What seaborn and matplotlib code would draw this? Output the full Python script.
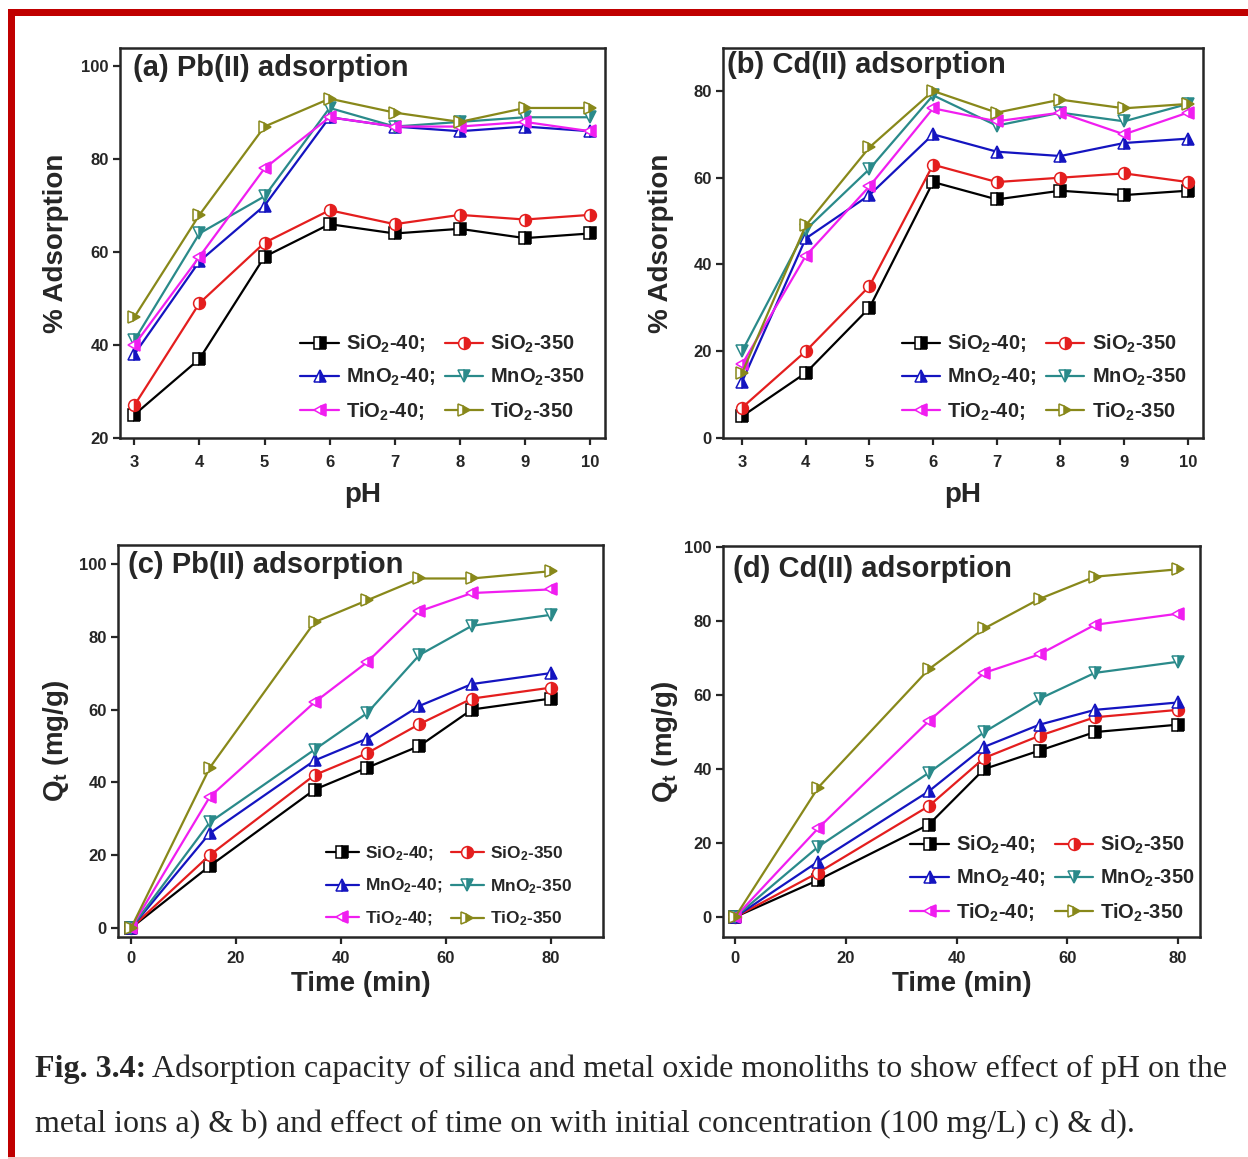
import numpy as np
import pandas as pd
import matplotlib
matplotlib.use("Agg")
import matplotlib.pyplot as plt
import seaborn as sns
from matplotlib.patches import Rectangle

# ---------------- data ----------------
ph = [3, 4, 5, 6, 7, 8, 9, 10]
time_min = [0, 15, 35, 45, 55, 65, 80]

legend_labels = ["SiO$_2$-40;", "SiO$_2$-350", "MnO$_2$-40;", "MnO$_2$-350",
                 "TiO$_2$-40;", "TiO$_2$-350"]

# (a) Pb(II) vs pH, % adsorption
pb_ph_sio2_40 = [25, 37, 59, 66, 64, 65, 63, 64]
pb_ph_sio2_350 = [27, 49, 62, 69, 66, 68, 67, 68]
pb_ph_mno2_40 = [38, 58, 70, 89, 87, 86, 87, 86]
pb_ph_mno2_350 = [41, 64, 72, 91, 87, 88, 89, 89]
pb_ph_tio2_40 = [40, 59, 78, 89, 87, 87, 88, 86]
pb_ph_tio2_350 = [46, 68, 87, 93, 90, 88, 91, 91]

# (b) Cd(II) vs pH, % adsorption
cd_ph_sio2_40 = [5, 15, 30, 59, 55, 57, 56, 57]
cd_ph_sio2_350 = [7, 20, 35, 63, 59, 60, 61, 59]
cd_ph_mno2_40 = [13, 46, 56, 70, 66, 65, 68, 69]
cd_ph_mno2_350 = [20, 48, 62, 79, 72, 75, 73, 77]
cd_ph_tio2_40 = [17, 42, 58, 76, 73, 75, 70, 75]
cd_ph_tio2_350 = [15, 49, 67, 80, 75, 78, 76, 77]

# (c) Pb(II) vs time, Qt (mg/g)
pb_t_sio2_40 = [0, 17, 38, 44, 50, 60, 63]
pb_t_sio2_350 = [0, 20, 42, 48, 56, 63, 66]
pb_t_mno2_40 = [0, 26, 46, 52, 61, 67, 70]
pb_t_mno2_350 = [0, 29, 49, 59, 75, 83, 86]
pb_t_tio2_40 = [0, 36, 62, 73, 87, 92, 93]
pb_t_tio2_350 = [0, 44, 84, 90, 96, 96, 98]

# (d) Cd(II) vs time, Qt (mg/g)
cd_t_sio2_40 = [0, 10, 25, 40, 45, 50, 52]
cd_t_sio2_350 = [0, 12, 30, 43, 49, 54, 56]
cd_t_mno2_40 = [0, 15, 34, 46, 52, 56, 58]
cd_t_mno2_350 = [0, 19, 39, 50, 59, 66, 69]
cd_t_tio2_40 = [0, 24, 53, 66, 71, 79, 82]
cd_t_tio2_350 = [0, 35, 67, 78, 86, 92, 94]

# ---------------- style ----------------
sns.set_style("ticks")
plt.rcParams["font.family"] = ["Liberation Sans", "DejaVu Sans"]
plt.rcParams["font.weight"] = "bold"
plt.rcParams["axes.labelweight"] = "bold"
plt.rcParams["mathtext.fontset"] = "custom"
plt.rcParams["mathtext.rm"] = "Liberation Sans:bold"
plt.rcParams["mathtext.it"] = "Liberation Sans:bold"
plt.rcParams["mathtext.bf"] = "Liberation Sans:bold"
plt.rcParams["mathtext.default"] = "rm"

colors = ["#000000", "#e41e1e", "#1414c0", "#2a8a8a", "#f01ef0", "#88881a"]
markers = ["s", "o", "^", "v", "<", ">"]

W, H = 1248, 1159
fig = plt.figure(figsize=(W / 100, H / 100), dpi=100)


def px_axes(l, r, t, b):
    return [l / W, 1 - b / H, (r - l) / W, (b - t) / H]


panels = [
    dict(rect=px_axes(120, 605, 48, 438), x=ph,
         ys=[pb_ph_sio2_40, pb_ph_sio2_350, pb_ph_mno2_40, pb_ph_mno2_350, pb_ph_tio2_40, pb_ph_tio2_350],
         xlim=(2.78, 10.23), ylim=(20, 103.9), xticks=ph, yticks=[20, 40, 60, 80, 100],
         xlabel="pH", ylabel="% Adsorption", title="(a) Pb(II) adsorption",
         tpos=(0.027, 0.928), leg=(0.372, 0.27), legfs=14.5, ls=0.6, ylp=9, xlp=9, xpad=7),
    dict(rect=px_axes(723, 1203, 48, 438), x=ph,
         ys=[cd_ph_sio2_40, cd_ph_sio2_350, cd_ph_mno2_40, cd_ph_mno2_350, cd_ph_tio2_40, cd_ph_tio2_350],
         xlim=(2.7, 10.24), ylim=(0, 89.9), xticks=ph, yticks=[0, 20, 40, 60, 80],
         xlabel="pH", ylabel="% Adsorption", title="(b) Cd(II) adsorption",
         tpos=(0.008, 0.936), leg=(0.372, 0.27), legfs=14.5, ls=0.6, ylp=14, xlp=9, xpad=7),
    dict(rect=px_axes(118, 603, 545, 937), x=time_min,
         ys=[pb_t_sio2_40, pb_t_sio2_350, pb_t_mno2_40, pb_t_mno2_350, pb_t_tio2_40, pb_t_tio2_350],
         xlim=(-2.5, 90), ylim=(-2.5, 105.2), xticks=[0, 20, 40, 60, 80], yticks=[0, 20, 40, 60, 80, 100],
         xlabel="Time (min)", ylabel="Q$_\\mathrm{t}$ (mg/g)", title="(c) Pb(II) adsorption",
         tpos=(0.02, 0.929), leg=(0.428, 0.236), legfs=12.5, ls=0.8, ylp=6, xlp=4, xpad=5),
    dict(rect=px_axes(723, 1200, 546, 937), x=time_min,
         ys=[cd_t_sio2_40, cd_t_sio2_350, cd_t_mno2_40, cd_t_mno2_350, cd_t_tio2_40, cd_t_tio2_350],
         xlim=(-2.2, 84), ylim=(-5.4, 100.3), xticks=[0, 20, 40, 60, 80], yticks=[0, 20, 40, 60, 80, 100],
         xlabel="Time (min)", ylabel="Q$_\\mathrm{t}$ (mg/g)", title="(d) Cd(II) adsorption",
         tpos=(0.021, 0.921), leg=(0.393, 0.264), legfs=14.5, ls=0.6, ylp=3, xlp=4, xpad=5),
]

order = [0, 2, 4, 1, 3, 5]

for p in panels:
    ax = fig.add_axes(p["rect"])
    for i, y in enumerate(p["ys"]):
        df = pd.DataFrame({"x": p["x"], "y": y})
        sns.lineplot(data=df, x="x", y="y", ax=ax, color=colors[i], marker=markers[i],
                     markersize=8.5, linewidth=1.6, label=legend_labels[i], legend=False,
                     fillstyle="right", markerfacecoloralt="white",
                     markeredgecolor=colors[i], markeredgewidth=1.1)
    ax.set_xlim(*p["xlim"])
    ax.set_ylim(*p["ylim"])
    ax.set_xticks(p["xticks"])
    ax.set_yticks(p["yticks"])
    ax.set_xlabel(p["xlabel"], fontsize=20, fontweight="bold", labelpad=p["xlp"])
    ax.set_ylabel(p["ylabel"], fontsize=20, fontweight="bold", labelpad=p["ylp"])
    for s in ax.spines.values():
        s.set_linewidth(1.8)
        s.set_visible(True)
    ax.tick_params(direction="out", length=5, width=1.6, labelsize=12, pad=3)
    ax.tick_params(axis="x", pad=p["xpad"])
    for lab in ax.get_xticklabels() + ax.get_yticklabels():
        lab.set_fontweight("bold")
    ax.text(p["tpos"][0], p["tpos"][1], p["title"], transform=ax.transAxes,
            fontsize=21, fontweight="bold", ha="left", va="baseline")
    h, l = ax.get_legend_handles_labels()
    ax.legend([h[k] for k in order], [l[k] for k in order], ncol=2, frameon=False,
              loc="upper left", bbox_to_anchor=p["leg"], borderaxespad=0, borderpad=0,
              handlelength=1.9, handletextpad=0.35,
              columnspacing=0.5, labelspacing=p["ls"],
              prop={"weight": "bold", "size": p["legfs"]})

# ---------------- frame ----------------
fig.add_artist(Rectangle((8 / W, 1 - 16 / H), 1 - 8 / W, 7 / H, transform=fig.transFigure,
                         facecolor="#c00000", edgecolor="none"))
fig.add_artist(Rectangle((8 / W, 1 - 1157 / H), 7 / W, (1157 - 9) / H, transform=fig.transFigure,
                         facecolor="#c00000", edgecolor="none"))
fig.add_artist(Rectangle((8 / W, 1 - 1158.5 / H), 1 - 8 / W, 1.5 / H, transform=fig.transFigure,
                         facecolor="#f4c4c4", edgecolor="none"))

# ---------------- caption ----------------
cap_font = ["Liberation Serif", "DejaVu Serif"]
fs = 23
r = fig.canvas.get_renderer()
t1 = fig.text(35 / W, 1 - 1077 / H, "Fig. 3.4:", fontsize=fs, fontweight="bold",
              family=cap_font, ha="left", va="baseline")
bb = t1.get_window_extent(renderer=r)
fig.text(bb.x1 / W + 6 / W, 1 - 1077 / H,
         "Adsorption capacity of silica and metal oxide monoliths to show effect of pH on the",
         fontsize=fs, fontweight="normal", family=cap_font, ha="left", va="baseline")
fig.text(35 / W, 1 - 1132 / H,
         "metal ions a) & b) and effect of time on with initial concentration (100 mg/L) c) & d).",
         fontsize=fs, fontweight="normal", family=cap_font, ha="left", va="baseline")

fig.savefig("out.png", dpi=100)
